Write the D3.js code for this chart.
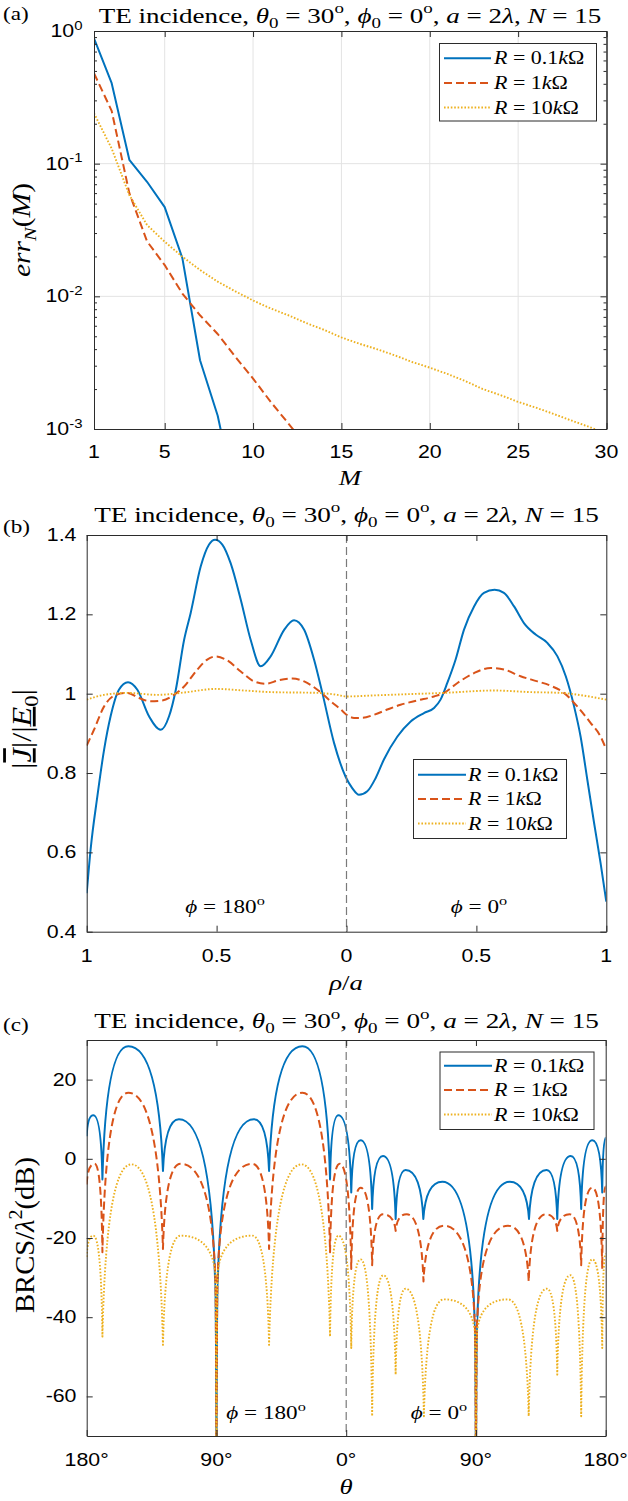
<!DOCTYPE html>
<html><head><meta charset="utf-8">
<script src="https://cdn.jsdelivr.net/npm/d3@7"></script>
<style>body{margin:0;background:#fff} svg{display:block}</style>
</head><body>
<svg id="fig" width="628" height="1501"></svg>
<script>
// ================= DATA =================
// (a) convergence error vs M
const mValues = [1,2,3,4,5,6,7,8,9,10,11,12,13,14,15,16,17,18,19,20,21,22,23,24,25,26,27,28,29,30];
const errR01 = [0.88,0.404,0.107,0.073,0.047,0.0194,0.0033,0.00126,0.0003];
const errR1  = [0.48,0.25,0.06,0.026,0.0172,0.0105,0.0072,0.0052,0.0035,0.0024,0.0016,0.0011,0.00075];
const errR10 = [0.24,0.13,0.058,0.0345,0.0258,0.0199,0.0158,0.0129,0.0109,0.0093,0.0081,0.0072,0.0063,0.0056,0.0049,0.0044,0.0040,0.0036,0.0032,0.0029,0.0026,0.0023,0.0020,0.0018,0.0016,0.00145,0.0013,0.00116,0.00104,0.00092];

// (b) current magnitude vs rho/a (negative = phi 180 side)
const rhoBlue = [-1,-0.985,-0.959,-0.933,-0.908,-0.876,-0.841,-0.805,-0.76,-0.715,-0.683,-0.657,-0.625,-0.6,-0.561,-0.529,-0.506,-0.478,-0.446,-0.407,-0.369,-0.33,-0.292,-0.24,-0.202,-0.163,-0.125,-0.093,-0.048,-0.003,0.022,0.048,0.08,0.112,0.144,0.196,0.247,0.298,0.337,0.362,0.388,0.42,0.452,0.491,0.529,0.57,0.606,0.645,0.683,0.728,0.773,0.812,0.844,0.876,0.901,0.927,0.953,0.978,1];
const jBlue   = [0.497,0.607,0.741,0.859,0.943,1.01,1.029,1.01,0.943,0.909,0.943,1.01,1.136,1.203,1.321,1.376,1.388,1.376,1.329,1.237,1.136,1.069,1.094,1.161,1.185,1.161,1.086,1.002,0.876,0.79,0.762,0.745,0.754,0.787,0.834,0.892,0.93,0.951,0.964,0.985,1.027,1.086,1.161,1.22,1.254,1.262,1.254,1.22,1.178,1.149,1.128,1.094,1.044,0.968,0.892,0.783,0.674,0.573,0.476];
const rhoRed  = [-1,-0.972,-0.933,-0.888,-0.843,-0.799,-0.754,-0.709,-0.664,-0.625,-0.574,-0.536,-0.503,-0.459,-0.407,-0.356,-0.311,-0.26,-0.208,-0.163,-0.112,-0.061,-0.022,0,0.029,0.061,0.106,0.157,0.208,0.273,0.337,0.375,0.427,0.491,0.555,0.606,0.67,0.735,0.786,0.837,0.888,0.94,0.978,1];
const jRed    = [0.869,0.909,0.968,0.997,1.002,0.989,0.981,0.983,0.997,1.018,1.061,1.086,1.094,1.084,1.056,1.031,1.025,1.034,1.038,1.031,1.01,0.981,0.96,0.947,0.939,0.939,0.947,0.96,0.972,0.983,0.993,1.002,1.027,1.052,1.065,1.061,1.044,1.031,1.02,1.002,0.968,0.926,0.892,0.859];
const rhoYel  = [-1,-0.933,-0.843,-0.728,-0.625,-0.503,-0.394,-0.292,-0.112,-0.035,0,0.119,0.247,0.375,0.568,0.709,0.824,0.914,1];
const jYel    = [0.985,0.997,1.002,0.997,1.003,1.012,1.008,1.004,1.002,0.997,0.993,0.996,0.999,1.002,1.008,1.004,1.002,0.995,0.985];

// (c) BRCS (peaks and nulls), negative theta = phi 180 side
const thetaBlue = [-180,-175.4,-169.1,-151.1,-127.1,-116,-91,-90,-89,-64,-53.5,-30.4,-11.2,-5.4,3.5,10,18,25.5,34.3,41.2,53.5,66.7,89,90,91,113.5,126.8,139,146.4,155.7,163,170.7,177.6,180];
const brcsBlue  = [5.7,11.0,-5.2,28.4,-3.1,10.0,-30,-100,-30,10.0,-3.1,28.4,-5.2,11.0,-8.5,4.7,-12.7,0.7,-15.2,-2.8,-15.2,-5.8,-40,-100,-40,-5.8,-15.2,-2.8,-15.2,0.7,-12.7,4.7,-8.5,5.3];
const thetaRed  = [-180,-174.5,-169.1,-151.1,-127.1,-114.8,-91,-90,-89,-65.2,-53.5,-30.4,-11.2,-4.5,3.5,10,18,25.5,34.3,42,53.6,67.8,89,90,91,112.2,126.6,138.5,146.4,155,163,170.7,177.6,180];
const brcsRed   = [-6.5,-1.25,-23.6,16.7,-22.8,-1.25,-28,-100,-28,-1.25,-22.8,16.7,-23.6,-1.25,-27.8,-7.3,-26.9,-14,-18.2,-14,-31,-16.9,-40,-100,-40,-16.9,-31,-14,-18.2,-14,-26.9,-7.3,-27.8,-7];
const thetaYel  = [-180,-175.4,-169.1,-149,-127.1,-114.8,-91,-90,-89,-65.2,-53.5,-31,-11.2,-5.4,3.5,10,18,25.7,34.3,41.2,53.9,67.8,89,90,91,112.2,126.6,139.2,146.4,155.5,163,170.7,177.6,180];
const brcsYel   = [-24.8,-19.4,-44.9,-1.4,-47,-19.4,-28.2,-100,-28.2,-19.4,-47,-1.4,-44.9,-19.4,-47.8,-25.4,-65,-29.4,-54.5,-32.8,-65,-35.5,-43,-100,-43,-35.5,-65,-32.8,-54.5,-29.4,-65,-25.4,-47.8,-24];

// ticks
const xTicksA = [1,5,10,15,20,25,30];
const yTicksA = [0.001,0.01,0.1,1];
const yTickExpA = ['-3','-2','-1','0'];
const xTicksB = [-1,-0.5,0,0.5,1];
const xTickLabelsB = ['1','0.5','0','0.5','1'];
const yTicksB = [0.4,0.6,0.8,1,1.2,1.4];
const yTickLabelsB = ['0.4','0.6','0.8','1','1.2','1.4'];
const xTicksC = [-180,-90,0,90,180];
const xTickLabelsC = ['180°','90°','0°','90°','180°'];
const yTicksC = [-60,-40,-20,0,20];
const yTickLabelsC = ['-60','-40','-20','0','20'];
const legendValues = ['0.1','1','10'];

// ================= DRAWING =================
const svg = d3.select('#fig');
svg.append('rect').attr('width',628).attr('height',1501).attr('fill','#fff');
const SERIF = "'Liberation Serif','Times New Roman',serif";
const SANS = "'Liberation Sans',Arial,sans-serif";
const SX = 1.22;
const PHI = 'ϕ';
const colors = ['#0072BD','#D95319','#EDB120'];
const dashes = [null,'8,4','1.6,1.8'];
const widths = [2,2,1.9];

function rich(parent, parts, size, family, anchor) {
  const t = parent.append('text').attr('font-family', family).attr('font-size', size)
    .attr('text-anchor', anchor || 'start').attr('fill', '#000').style('white-space','pre');
  let cur = 0;
  for (const p of parts) {
    const s = t.append('tspan').text(p.t);
    let shift = 0, fs = size;
    if (p.sub) { shift = 0.25*size; fs = 0.7*size; }
    if (p.sup) { shift = -0.42*size; fs = 0.7*size; }
    s.attr('font-size', fs);
    if (shift !== cur) { s.attr('dy', shift - cur); cur = shift; }
    if (p.i) s.attr('font-style','italic');
    if (p.deco) s.attr('text-decoration', p.deco);
  }
  return t;
}
function put(t, x, y, sx, sy, rot) {
  t.attr('transform', `translate(${x},${y})${rot ? ' rotate(-90)' : ''} scale(${sx},${sy})`);
  return t;
}
function fitH(parent, parts, size, family, cx, y, L) {
  const t = rich(parent, parts, size, family, 'middle');
  const w = t.node().getComputedTextLength();
  return put(t, cx, y, L / w, 1, false);
}
function fitV(parent, parts, size, family, bx, cy, L) {
  const t = rich(parent, parts, size, family, 'middle');
  const w = t.node().getComputedTextLength();
  return put(t, bx, cy, L / w, SX, true);
}

function curveArch(context) {
  let pts = [];
  return {
    areaStart() {}, areaEnd() {},
    lineStart() { pts = []; },
    point(x, y) { pts.push([+x, +y]); },
    lineEnd() {
      if (!pts.length) return;
      context.moveTo(pts[0][0], pts[0][1]);
      for (let i = 1; i < pts.length; i++) {
        const [x0, y0] = pts[i-1], [x1, y1] = pts[i], dx = x1 - x0, dy = y1 - y0;
        if (dy < 0) context.bezierCurveTo(x0 + 0.1*dx, y0 + 0.75*dy, x1 - 0.5*dx, y1, x1, y1);
        else context.bezierCurveTo(x0 + 0.5*dx, y0, x1 - 0.1*dx, y1 - 0.75*dy, x1, y1);
      }
    }
  };
}

function frame(g, xs, ys, xt, yt, yMinor) {
  const [x0, x1] = xs.range(), [y0, y1] = ys.range();
  const add = (gen, tr) => g.append('g').attr('transform', tr).call(gen);
  add(d3.axisBottom(xs).tickValues(xt).tickSizeInner(-6).tickSizeOuter(0).tickFormat(''), `translate(0,${y0})`);
  add(d3.axisTop(xs).tickValues(xt).tickSizeInner(-6).tickSizeOuter(0).tickFormat(''), `translate(0,${y1})`);
  add(d3.axisLeft(ys).tickValues(yt).tickSizeInner(-6).tickSizeOuter(0).tickFormat(''), `translate(${x0},0)`);
  add(d3.axisRight(ys).tickValues(yt).tickSizeInner(-6).tickSizeOuter(0).tickFormat(''), `translate(${x1},0)`);
  if (yMinor) {
    add(d3.axisLeft(ys).tickValues(yMinor).tickSizeInner(-3).tickSizeOuter(0).tickFormat(''), `translate(${x0},0)`);
    add(d3.axisRight(ys).tickValues(yMinor).tickSizeInner(-3).tickSizeOuter(0).tickFormat(''), `translate(${x1},0)`);
  }
  g.selectAll('.domain').attr('stroke','#2b2b2b').attr('stroke-width',1);
  g.selectAll('.tick line').attr('stroke','#2b2b2b').attr('stroke-width',1);
}

function clip(id, xs, ys) {
  const [x0, x1] = xs.range(), [y0, y1] = ys.range();
  svg.append('clipPath').attr('id', id).append('rect')
    .attr('x', x0).attr('y', y1).attr('width', x1 - x0).attr('height', y0 - y1);
}

function styled(path, i) {
  path.attr('fill','none').attr('stroke', colors[i]).attr('stroke-width', widths[i])
    .attr('stroke-linejoin','round');
  if (dashes[i]) path.attr('stroke-dasharray', dashes[i]);
  return path;
}

const titleParts = [{t:'TE incidence, '},{t:'θ',i:1},{t:'0',sub:1},{t:' = 30'},{t:'o',sup:1},{t:', '},
  {t:PHI,i:1},{t:'0',sub:1},{t:' = 0'},{t:'o',sup:1},{t:', '},{t:'a',i:1},{t:' = 2'},{t:'λ',i:1},{t:', '},{t:'N',i:1},{t:' = 15'}];

function legend(g, bx, by, bw, bh, lx0, lx1, tx, rows) {
  g.append('rect').attr('x', bx).attr('y', by).attr('width', bw).attr('height', bh)
    .attr('fill','#fff').attr('stroke','#2b2b2b').attr('stroke-width',1);
  rows.forEach((ry, i) => {
    styled(g.append('line').attr('x1', lx0).attr('x2', lx1).attr('y1', ry).attr('y2', ry), i);
    const t = rich(g, [{t:'R',i:1},{t:' = ' + legendValues[i]},{t:'k',i:1},{t:'Ω'}], 18, SERIF, 'start');
    put(t, tx, ry + 6, SX, 1, false);
  });
}

function panelLabel(txt, x, y) {
  put(rich(svg, [{t:txt}], 19, SERIF, 'start'), x, y, SX, 1, false);
}

// ---------- panel (a) ----------
const xA = d3.scaleLinear().domain([1,30]).range([94,606.5]);
const yA = d3.scaleLog().domain([0.001,1]).range([429,31]);
const gA = svg.append('g');
clip('clipA', xA, yA);
xTicksA.slice(1,-1).forEach(v => gA.append('line').attr('x1', xA(v)).attr('x2', xA(v)).attr('y1', yA(1)).attr('y2', yA(0.001)).attr('stroke','#e3e3e3').attr('stroke-width',1));
yTicksA.slice(1,-1).forEach(v => gA.append('line').attr('x1', xA(1)).attr('x2', xA(30)).attr('y1', yA(v)).attr('y2', yA(v)).attr('stroke','#e3e3e3').attr('stroke-width',1));
const minorA = [];
[0.001,0.01,0.1].forEach(d => { for (let k = 2; k <= 9; k++) minorA.push(d*k); });
const lineA = d3.line().x((d,i) => xA(mValues[i])).y(d => yA(d));
const gAc = gA.append('g').attr('clip-path','url(#clipA)');
[errR01, errR1, errR10].forEach((s,i) => styled(gAc.append('path').attr('d', lineA(s)), i));
frame(gA, xA, yA, xTicksA, yTicksA, minorA);
xTicksA.forEach(v => put(rich(gA, [{t:String(v)}], 17.5, SANS, 'middle'), xA(v), 458, SX, 1, false));
yTicksA.forEach((v,i) => put(rich(gA, [{t:'10'},{t:yTickExpA[i],sup:1}], 17.5, SANS, 'end'), 82.5, yA(v) + 6, SX, 1, false));
legend(gA, 439.5, 43.5, 157, 77.5, 444, 491, 494, [58.3, 83, 107.5]);
fitH(svg, titleParts, 21.5, SERIF, 350, 22.5, 503);
fitV(svg, [{t:'err',i:1},{t:'N',i:1,sub:1},{t:'('},{t:'M',i:1},{t:')'}], 20, SERIF, 30, 230, 94);
put(rich(svg, [{t:'M',i:1}], 22, SERIF, 'middle'), 350, 485, SX, 1, false);
panelLabel('(a)', 3, 20);

// ---------- panel (b) ----------
const xB = d3.scaleLinear().domain([-1,1]).range([86.7,606.3]);
const yB = d3.scaleLinear().domain([0.4,1.4]).range([931.7,535]);
const gB = svg.append('g');
clip('clipB', xB, yB);
const gBc = gB.append('g').attr('clip-path','url(#clipB)');
const lineB = (xs, vs) => d3.line().curve(d3.curveMonotoneX).x((d,i) => xB(xs[i])).y(d => yB(d))(vs);
styled(gBc.append('path').attr('d', lineB(rhoBlue, jBlue)), 0);
styled(gBc.append('path').attr('d', lineB(rhoRed, jRed)), 1);
styled(gBc.append('path').attr('d', lineB(rhoYel, jYel)), 2);
gB.append('line').attr('x1', xB(0)).attr('x2', xB(0)).attr('y1', yB(1.4)).attr('y2', yB(0.4))
  .attr('stroke','#7a7a7a').attr('stroke-width',1.2).attr('stroke-dasharray','8,4');
frame(gB, xB, yB, xTicksB, yTicksB, null);
xTicksB.forEach((v,i) => put(rich(gB, [{t:xTickLabelsB[i]}], 17.5, SANS, 'middle'), xB(v), 962, SX, 1, false));
yTicksB.forEach((v,i) => put(rich(gB, [{t:yTickLabelsB[i]}], 17.5, SANS, 'end'), 76.5, yB(v) + 6, SX, 1, false));
put(rich(gB, [{t:PHI,i:1},{t:' = 180'},{t:'o',sup:1}], 19, SERIF, 'middle'), 225, 913, SX, 1, false);
put(rich(gB, [{t:PHI,i:1},{t:' = 0'},{t:'o',sup:1}], 19, SERIF, 'middle'), 479, 913, SX, 1, false);
legend(gB, 413.5, 759.5, 153, 79, 418, 466, 468, [774.8, 799, 823.5]);
fitH(svg, titleParts, 21.5, SERIF, 346.5, 521.5, 505);
fitV(svg, [{t:'|'},{t:'J',i:1,deco:'underline overline'},{t:'|/|'},{t:'E',i:1,deco:'underline'},{t:'0',sub:1},{t:'|'}], 23, SERIF, 31, 729, 80);
put(rich(svg, [{t:'ρ',i:1},{t:'/'},{t:'a',i:1}], 22, SERIF, 'middle'), 346, 990, SX, 1, false);
panelLabel('(b)', 3, 533);

// ---------- panel (c) ----------
const xC = d3.scaleLinear().domain([-180,180]).range([86.7,605.7]);
const yC = d3.scaleLinear().domain([-70,30]).range([1436,1040]);
const gC = svg.append('g');
clip('clipC', xC, yC);
const gCc = gC.append('g').attr('clip-path','url(#clipC)');
const lineC = (xs, vs) => d3.line().curve(curveArch).x((d,i) => xC(xs[i])).y(d => yC(d))(vs);
styled(gCc.append('path').attr('d', lineC(thetaBlue, brcsBlue)), 0);
styled(gCc.append('path').attr('d', lineC(thetaRed, brcsRed)), 1);
styled(gCc.append('path').attr('d', lineC(thetaYel, brcsYel)), 2);
gC.append('line').attr('x1', xC(0)).attr('x2', xC(0)).attr('y1', yC(30)).attr('y2', yC(-70))
  .attr('stroke','#7a7a7a').attr('stroke-width',1.2).attr('stroke-dasharray','8,4');
frame(gC, xC, yC, xTicksC, yTicksC, null);
xTicksC.forEach((v,i) => put(rich(gC, [{t:xTickLabelsC[i]}], 17.5, SANS, 'middle'), xC(v), 1466, SX, 1, false));
yTicksC.forEach((v,i) => put(rich(gC, [{t:yTickLabelsC[i]}], 17.5, SANS, 'end'), 76.5, yC(v) + 6, SX, 1, false));
put(rich(gC, [{t:PHI,i:1},{t:' = 180'},{t:'o',sup:1}], 19, SERIF, 'middle'), 266, 1419, SX, 1, false);
put(rich(gC, [{t:PHI,i:1},{t:' = 0'},{t:'o',sup:1}], 19, SERIF, 'middle'), 439, 1419, SX, 1, false);
legend(gC, 440, 1052, 154, 77.5, 444, 492, 494, [1065.7, 1090, 1114.5]);
fitH(svg, titleParts, 21.5, SERIF, 346.5, 1028, 505);
fitV(svg, [{t:'BRCS/'},{t:'λ',i:1},{t:'2',sup:1},{t:'(dB)'}], 23, SERIF, 34, 1235, 156);
put(rich(svg, [{t:'θ',i:1}], 22, SERIF, 'middle'), 346, 1494, SX, 1, false);
panelLabel('(c)', 3, 1031);
</script>
</body></html>
